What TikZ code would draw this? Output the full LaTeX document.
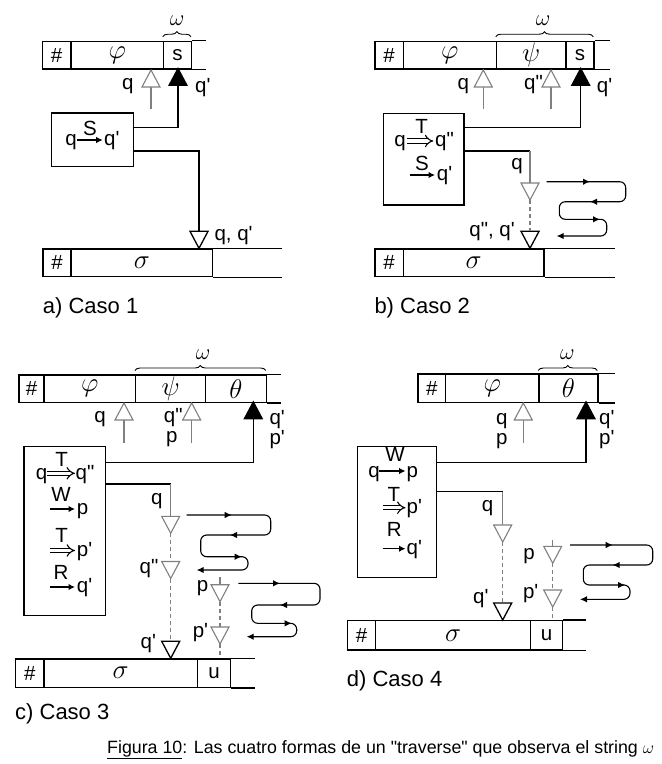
\documentclass[tikz,border=0pt]{standalone}
\usepackage{fontspec}
\setmainfont{Liberation Sans}
\usetikzlibrary{arrows.meta,decorations.pathreplacing}

\definecolor{ptrgray}{RGB}{128,128,128}
\newcommand\lblfont{\fontsize{20.5}{20.5}\selectfont}
\newcommand\grkfont{\fontsize{17}{17}\selectfont}
\newcommand\casefont{\fontsize{22}{22}\selectfont}
\newcommand\captfont{\fontsize{17.8}{17.8}\selectfont}
\newcommand\prm{\textquotesingle}
\newcommand\dprm{\textquotedbl}
% italic Greek symbols on the tapes
\newcommand\grk[1]{\scalebox{1.3}{$#1$}}

% one cell of a tape: name, left, right, top, bottom, content
\newcommand\tapecell[6]{\node[cell, minimum width={#3-#2}, minimum height={#5-#4}] (#1) at (#2,#4) {#6};}
% head pointers: x, tip y, style, name (name = base centre, name+t = tip)
\newcommand\uptri[4]{\draw[#3] (#1,#2) -- ++(-9,17) -- ++(18,0) -- cycle;
  \coordinate (#4) at (#1,#2+17); \coordinate (#4t) at (#1,#2);}
\newcommand\dntri[4]{\draw[#3] (#1,#2) -- ++(-9,-17) -- ++(18,0) -- cycle;
  \coordinate (#4) at (#1,#2-17); \coordinate (#4t) at (#1,#2);}

\tikzset{
  tapeline/.style={line width=1.3pt},
  cell/.style={draw, line width=1.3pt, inner sep=0pt, anchor=north west, font=\lblfont},
  procbox/.style={draw, line width=1.2pt, inner sep=0pt, anchor=north west},
  lab/.style={inner sep=0pt, anchor=base, font=\lblfont},
  labw/.style={lab, anchor=base west},
  labe/.style={lab, anchor=base east},
  wire/.style={line width=1.2pt},
  gwire/.style={line width=1.1pt, draw=ptrgray},
  dwire/.style={gwire, dash pattern=on 4pt off 3pt},
  gptr/.style={draw=ptrgray, fill=white, line width=1.1pt},
  bptr/.style={draw=black, fill=black, line width=1.1pt},
  hptr/.style={draw=black, fill=white, line width=1.3pt},
  sarr/.style={line width=1.2pt, -{Latex[length=6.5pt,width=6.5pt]}},
  darr/.style={double, double distance=3.2pt, line width=1.1pt, -{Implies}},
  zig/.style={line width=1.1pt, rounded corners=6pt, -{Latex[length=7pt,width=6.5pt]}},
  midtip/.style={line width=1.1pt, -{Latex[length=7pt,width=6.5pt]}},
  wbrace/.style={decorate, decoration={brace, amplitude=5pt}, line width=0.9pt},
  omg/.style={inner sep=0pt, font=\grkfont},
  casecap/.style={inner sep=0pt, anchor=base west, font=\casefont},
  figcap/.style={inner sep=0pt, anchor=base west, font=\captfont},
}

\begin{document}
\begin{tikzpicture}[x=1pt, y=-1pt]
\useasboundingbox (0,0) rectangle (662,764);

%%%%%%%%%%%%%%%%%%%% a) Caso 1
\tapecell{a-h}{41.7}{70.3}{40.7}{68.3}{\#}
\tapecell{a-phi}{70.3}{162.7}{40.7}{68.3}{\grk\varphi}
\tapecell{a-s}{162.7}{191}{40.7}{68.3}{s}
\draw[tapeline] (a-s.north east) -- ++(14,0) (a-s.south east) -- ++(14,0);
\draw[wbrace] (162.7,36.7) -- (191,36.7);
\node[omg] (a-w) at (177,21) {\grk\omega};

\uptri{151}{70}{gptr}{a-g1}
\coordinate (a-g1e) at (151,109);
\draw[gwire] (a-g1) -- (a-g1e);
\node[lab] (a-lq) at (127.7,89) {q};
\uptri{178}{68.3}{bptr}{a-b}
\node[labw] (a-lq2) at (195,92) {q\prm};

\node[procbox, minimum width=81.7, minimum height=53.7] (a-box) at (51,112.3) {};
\node[lab] (a-r1a) at (71,145.5) {q};
\draw[sarr] (77,140) -- (102.7,140);
\node[lab] (a-r1l) at (90,135) {S};
\node[labw] (a-r1b) at (104,145.5) {q\prm};

\coordinate (a-o1) at (132.7,127.7);
\draw[wire] (a-o1) -| (a-b);
\coordinate (a-o2) at (132.7,151);
\dntri{199}{248.3}{hptr}{a-t}
\draw[wire] (a-o2) -| (a-t);
\node[labw] (a-lt) at (214.3,240) {q, q\prm};

\tapecell{a-bh}{42.3}{70.3}{248.3}{276}{\#}
\tapecell{a-sig}{70.3}{212}{248.3}{276}{\grk\sigma}
\draw[tapeline] (a-sig.north east) -- ++(68.7,0) (a-sig.south east) -- ++(68.7,0);
\node[casecap] (a-cap) at (42.7,313) {a) Caso 1};

%%%%%%%%%%%%%%%%%%%% b) Caso 2
\tapecell{b-h}{374.3}{402.7}{40.7}{68.3}{\#}
\tapecell{b-phi}{402.7}{495.7}{40.7}{68.3}{\grk\varphi}
\tapecell{b-psi}{495.7}{565.3}{40.7}{68.3}{\grk\psi}
\tapecell{b-s}{565.3}{593.3}{40.7}{68.3}{s}
\draw[tapeline] (b-s.north east) -- ++(15,0) (b-s.south east) -- ++(15,0);
\draw[wbrace] (495.7,36.7) -- (593.3,36.7);
\node[omg] (b-w) at (543,21) {\grk\omega};

\uptri{483.3}{70}{gptr}{b-g1}
\coordinate (b-g1e) at (483.3,109);
\draw[gwire] (b-g1) -- (b-g1e);
\node[lab] (b-lq) at (463.3,89) {q};
\uptri{551}{70}{gptr}{b-g2}
\coordinate (b-g2e) at (551,109);
\draw[gwire] (b-g2) -- (b-g2e);
\node[labe] (b-lq2) at (543,89) {q\dprm};
\uptri{580.7}{68.3}{bptr}{b-b}
\node[labw] (b-lq3) at (596.7,92) {q\prm};

\node[procbox, minimum width=80.6, minimum height=91.6] (b-box) at (382.7,112.7) {};
\node[lab] (b-r1a) at (400,146.5) {q};
\draw[darr] (406.5,141) -- (433.3,141);
\node[lab] (b-r1l) at (421.7,133.5) {T};
\node[labw] (b-r1b) at (435,146.5) {q\dprm};
\draw[sarr] (410,175) -- (435,175);
\node[lab] (b-r2l) at (422,170) {S};
\node[labw] (b-r2b) at (436.7,180) {q\prm};

\coordinate (b-o1) at (463.3,127.7);
\draw[wire] (b-o1) -| (b-b);
\coordinate (b-o2) at (463.3,151);
\coordinate (b-k) at (530,151);
\draw[wire] (b-o2) -- (b-k);
\dntri{530}{200}{gptr}{b-t1}
\draw[gwire] (b-k) -- (b-t1);
\node[lab] (b-lt1) at (517,169) {q};
\dntri{530}{248.3}{hptr}{b-t2}
\draw[dwire] (b-t1t) -- (b-t2);
\node[labe] (b-lt2) at (515,236) {q\dprm, q\prm};

\draw[zig] (546.7,181.7) -- (625.7,181.7) -- (625.7,201.7) -- (559.3,201.7)
  -- (559.3,219.3) -- (606.7,219.3) -- (606.7,236) -- (556.7,236);
\draw[midtip] (585,181.7) -- (590,181.7);
\draw[midtip] (595,201.7) -- (590,201.7);
\draw[midtip] (595,219.3) -- (600,219.3);

\tapecell{b-bh}{374.3}{402.7}{248.3}{276}{\#}
\tapecell{b-sig}{402.7}{543.3}{248.3}{276}{\grk\sigma}
\draw[tapeline] (b-sig.north east) -- ++(70,0) (b-sig.south east) -- ++(70,0);
\node[casecap] (b-cap) at (374.3,313) {b) Caso 2};

%%%%%%%%%%%%%%%%%%%% c) Caso 3
\tapecell{c-h}{18.3}{43.3}{374.3}{401.7}{\#}
\tapecell{c-phi}{43.3}{135}{374.3}{401.7}{\grk\varphi}
\tapecell{c-psi}{135}{205}{374.3}{401.7}{\grk\psi}
\tapecell{c-th}{205}{265.7}{374.3}{401.7}{\grk\theta}
\draw[tapeline] (c-th.north east) -- ++(13.6,0) (c-th.south east) -- ++(13.6,0);
\draw[wbrace] (135,370.5) -- (265.7,370.5);
\node[omg] (c-w) at (203,355) {\grk\omega};

\uptri{124}{403}{gptr}{c-g1}
\coordinate (c-g1e) at (124,442.7);
\draw[gwire] (c-g1) -- (c-g1e);
\node[lab] (c-lq) at (100,422.6) {q};
\uptri{191.7}{403}{gptr}{c-g2}
\coordinate (c-g2e) at (191.7,442.7);
\draw[gwire] (c-g2) -- (c-g2e);
\node[lab] (c-lq2) at (173.3,422.6) {q\dprm};
\node[lab] (c-lp) at (171.7,442.6) {p};
\uptri{253.3}{401.7}{bptr}{c-b}
\node[labw] (c-lq3) at (269.3,424) {q\prm};
\node[labw] (c-lp3) at (269.3,444) {p\prm};

\node[procbox, minimum width=81.7, minimum height=169] (c-box) at (23.3,446) {};
\node[lab] (c-r1a) at (41.7,479) {q};
\draw[darr] (46.7,473.3) -- (75,473.3);
\node[lab] (c-r1l) at (61.7,466.5) {T};
\node[labw] (c-r1b) at (75.5,479) {q\dprm};
\draw[sarr] (50,509) -- (75,509);
\node[lab] (c-r2l) at (61,501) {W};
\node[labw] (c-r2b) at (76.7,514) {p};
\draw[darr] (50,550.5) -- (75,550.5);
\node[lab] (c-r3l) at (61.7,542) {T};
\node[labw] (c-r3b) at (76.7,556) {p\prm};
\draw[sarr] (50,587) -- (75,587);
\node[lab] (c-r4l) at (61,579.5) {R};
\node[labw] (c-r4b) at (76.7,592) {q\prm};

\coordinate (c-o1) at (105,462.7);
\draw[wire] (c-o1) -| (c-b);
\coordinate (c-o2) at (105,484);
\coordinate (c-k) at (170.7,484);
\draw[wire] (c-o2) -- (c-k);
\dntri{170.7}{533.3}{gptr}{c-t1}
\draw[gwire] (c-k) -- (c-t1);
\node[lab] (c-lt1) at (156.7,504) {q};
\dntri{170.7}{578.5}{gptr}{c-t2}
\draw[dwire] (c-t1t) -- (c-t2);
\node[lab] (c-lt2) at (149,573) {q\dprm};
\dntri{170.7}{658.3}{hptr}{c-t3}
\draw[dwire] (c-t2t) -- (c-t3);
\node[lab] (c-lt3) at (148.3,648) {q\prm};

\coordinate (c-ps) at (220,576.7);
\dntri{220}{601.7}{gptr}{c-t4}
\draw[gwire] (c-ps) -- (c-t4);
\node[lab] (c-lt4) at (202.5,591) {p};
\dntri{220}{644}{gptr}{c-t5}
\draw[dwire] (c-t4t) -- (c-t5);
\node[lab] (c-lt5) at (200.5,637) {p\prm};
\coordinate (c-pe) at (220,658.3);
\draw[dwire] (c-t5t) -- (c-pe);

\draw[zig] (186.7,515) -- (270.7,515) -- (270.7,535) -- (200.7,535)
  -- (200.7,556.7) -- (248,556.7) -- (248,570) -- (196.7,570);
\draw[midtip] (226.7,515) -- (231.7,515);
\draw[midtip] (235,535) -- (230,535);
\draw[midtip] (236.7,556.7) -- (241.7,556.7);
\draw[zig] (238.3,583.3) -- (320,583.3) -- (320,605) -- (251.7,605)
  -- (251.7,623.3) -- (296.7,623.3) -- (296.7,636.7) -- (246.7,636.7);
\draw[midtip] (275,583.3) -- (280,583.3);
\draw[midtip] (285,605) -- (280,605);
\draw[midtip] (286.7,623.3) -- (291.7,623.3);

\tapecell{c-bh}{15}{43.3}{658.3}{686.7}{\#}
\tapecell{c-sig}{43.3}{196.7}{658.3}{686.7}{\grk\sigma}
\tapecell{c-u}{196.7}{230}{658.3}{686.7}{u}
\draw[tapeline] (c-u.north east) -- ++(23.3,0) (c-u.south east) -- ++(23.3,0);
\node[casecap] (c-cap) at (15,719) {c) Caso 3};

%%%%%%%%%%%%%%%%%%%% d) Caso 4
\tapecell{d-h}{417.3}{445}{373.3}{401.7}{\#}
\tapecell{d-phi}{445}{538.3}{373.3}{401.7}{\grk\varphi}
\tapecell{d-th}{538.3}{597.3}{373.3}{401.7}{\grk\theta}
\draw[tapeline] (d-th.north east) -- ++(16,0) (d-th.south east) -- ++(16,0);
\draw[wbrace] (538.3,370.5) -- (597.3,370.5);
\node[omg] (d-w) at (567.3,355) {\grk\omega};

\uptri{523.3}{403}{gptr}{d-g1}
\coordinate (d-g1e) at (523.3,442.7);
\draw[gwire] (d-g1) -- (d-g1e);
\node[lab] (d-lq) at (501.7,424) {q};
\node[lab] (d-lp) at (501.7,444) {p};
\uptri{586}{401.7}{bptr}{d-b}
\node[labw] (d-lq3) at (599,424) {q\prm};
\node[labw] (d-lp3) at (599,444) {p\prm};

\node[procbox, minimum width=79.3, minimum height=130.7] (d-box) at (356.7,446) {};
\node[lab] (d-r1a) at (374,477) {q};
\draw[sarr] (379,471) -- (405.5,471);
\node[lab] (d-r1l) at (395,461.5) {W};
\node[labw] (d-r1b) at (406.5,477) {p};
\draw[darr] (382.7,507.7) -- (405.5,507.7);
\node[lab] (d-r2l) at (394,501) {T};
\node[labw] (d-r2b) at (406.5,513) {p\prm};
\draw[sarr] (382.7,548.7) -- (405.5,548.7);
\node[lab] (d-r3l) at (394.3,536.5) {R};
\node[labw] (d-r3b) at (406.5,554) {q\prm};

\coordinate (d-o1) at (436,462.7);
\draw[wire] (d-o1) -| (d-b);
\coordinate (d-o2) at (436,491.7);
\coordinate (d-k) at (502.7,491.7);
\draw[wire] (d-o2) -- (d-k);
\dntri{502.7}{542}{gptr}{d-t1}
\draw[gwire] (d-k) -- (d-t1);
\node[lab] (d-lt1) at (487.5,511) {q};
\dntri{502.7}{620}{hptr}{d-t2}
\draw[dwire] (d-t1t) -- (d-t2);
\node[lab] (d-lt2) at (480.8,603) {q\prm};

\coordinate (d-ps) at (552.7,540);
\dntri{552.7}{563.3}{gptr}{d-t3}
\draw[gwire] (d-ps) -- (d-t3);
\node[lab] (d-lt3) at (529,559) {p};
\dntri{552.7}{607}{gptr}{d-t4}
\draw[dwire] (d-t3t) -- (d-t4);
\node[lab] (d-lt4) at (530.7,598) {p\prm};
\coordinate (d-pe) at (552.7,620);
\draw[dwire] (d-t4t) -- (d-pe);

\draw[zig] (570,545) -- (652.7,545) -- (652.7,565) -- (583.3,565)
  -- (583.3,585) -- (630,585) -- (630,599.3) -- (580,599.3);
\draw[midtip] (607.7,545) -- (612.7,545);
\draw[midtip] (617.7,565) -- (612.7,565);
\draw[midtip] (620,585) -- (625,585);

\tapecell{d-bh}{346.7}{375}{620}{649.3}{\#}
\tapecell{d-sig}{375}{530}{620}{649.3}{\grk\sigma}
\tapecell{d-u}{530}{561.7}{620}{649.3}{u}
\draw[tapeline] (d-u.north east) -- ++(23.3,0) (d-u.south east) -- ++(23.3,0);
\node[casecap] (d-cap) at (346.7,686) {d) Caso 4};

%%%%%%%%%%%%%%%%%%%% caption
\node[figcap] (fig-cap) at (107,753) {\underline{Figura 10}: Las cuatro formas de un \dprm traverse\dprm{} que observa el string $\omega$};

\end{tikzpicture}
\end{document}
